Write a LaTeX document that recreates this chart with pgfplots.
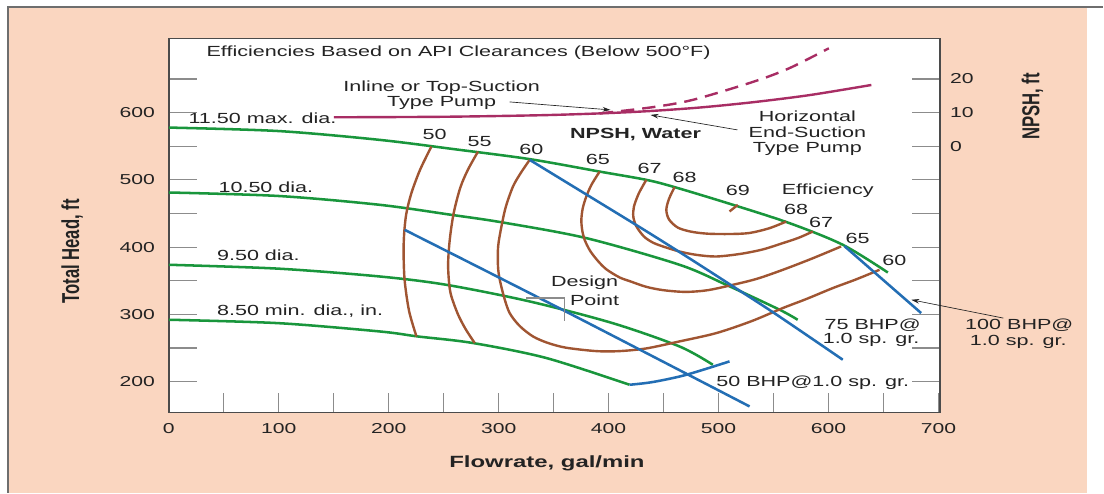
\documentclass[border=0pt]{standalone}
\usepackage{pgfplots}
\pgfplotsset{compat=1.18}
\usepackage{graphicx}
\usepackage{fontspec}
\setmainfont{Liberation Sans}
\newfontfamily\widefont[FakeStretch=1.47]{Liberation Sans}
\usetikzlibrary{arrows.meta}

\definecolor{peach}{RGB}{250,214,192}
\definecolor{headgreen}{RGB}{25,150,60}
\definecolor{effbrown}{RGB}{160,85,50}
\definecolor{bhpblue}{RGB}{35,110,180}
\definecolor{npshpink}{RGB}{168,45,100}
\definecolor{tickgray}{RGB}{140,140,140}
\definecolor{framegray}{RGB}{110,110,110}
\definecolor{axisgray}{RGB}{75,75,75}
\definecolor{txt}{RGB}{35,35,35}

\newcommand{\lblfont}{\widefont\fontsize{11}{13}\selectfont\color{txt}}
\newcommand{\tickfont}{\widefont\fontsize{10.8}{12}\selectfont\color{txt}}
\newcommand{\axlblfont}{\widefont\bfseries\fontsize{12.2}{14}\selectfont\color{txt}}

\pgfplotsset{
  chartbox/.style={
    at={(126.75pt,60.225pt)}, anchor=south west,
    scale only axis, width=578.8pt, height=280.8pt,
    xmin=0, xmax=701.5, enlargelimits=false,
    tick align=inside,
    tick style={draw=tickgray, line width=0.9pt},
    /pgf/number format/assume math mode=true,
  },
  head/.style={headgreen, line width=1.9pt, smooth},
  eff/.style={effbrown, line width=1.8pt, smooth},
  bhp/.style={bhpblue, line width=1.9pt, smooth},
}

\begin{document}
\begin{tikzpicture}[x=0.75pt,y=0.75pt]
% page background and frame
\fill[white] (0,0) rectangle (1104,493);
\fill[peach] (8,0) rectangle (1088,486);
\draw[framegray, line width=1.2pt] (8,0) -- (8,486) -- (1104,486);

% head scale: ticks on both sides
\begin{axis}[chartbox, ymin=154.4, ymax=710.4,
  hide x axis, axis line style={draw=none},
  axis background/.style={fill=white},
  ytick={200,300,...,600}, minor ytick={250,350,...,650},
  ytick pos=both, major tick length=21pt, minor tick length=21pt,
  yticklabel style={font=\tickfont, xshift=-7pt}]
\end{axis}

% pump curves
\begin{axis}[chartbox, ymin=154.4, ymax=710.4,
  axis line style={draw=axisgray, line width=1.1pt},
  ytick=\empty,
  xtick={0,100,...,700}, minor xtick={50,150,...,650},
  xtick pos=left, major tick length=14.25pt, minor tick length=14.25pt,
  xticklabel style={font=\tickfont, yshift=-4.5pt}]

% impeller diameters
\addplot[head] coordinates {(0,577.7) (100,572.5) (191.8,559.4) (260,545.5) (328.2,530.8) (391.8,512.3) (434.3,500) (460,489.2) (510,464.5) (564.5,435.7) (613,403.5) (654,362.3)};
\addplot[head] coordinates {(0,481.2) (100,476) (191.8,462.9) (257,448) (303.9,436.6) (379.7,413.4) (464.5,373.8) (507,344) (555.5,307) (572,292)};
\addplot[head] coordinates {(0,373.8) (100,368) (191.8,356.4) (252.5,344) (328.2,319.3) (404,286.9) (464.5,252.4) (494.8,225.2)};
\addplot[head] coordinates {(0,292.1) (100,287) (191.8,274.7) (226.3,267.3) (276.6,257.5) (343.4,235.2) (419,195.5)};

% efficiency contours
\addplot[eff] coordinates {(238.8,549.5) (228.5,515) (220.6,480.3) (216,450) (214,420) (213.5,390) (214.5,350) (218.5,305) (225.2,267.3)};
\addplot[eff] coordinates {(281.2,542) (272,515) (265,488) (259,450) (255.5,411) (254,375) (255,345) (257,326.7) (263,300) (270,278) (278.2,257.5)};
\addplot[eff] coordinates {(328.2,529.7) (320,510) (313,490) (306.5,460) (302.5,430.6) (299.5,401) (299.4,371) (301,351.5) (305,325) (310,302) (319,283) (331.2,267.3) (345,257.5) (361.5,250.5) (388.8,245.5) (410,245.5) (434.3,249.5) (464.5,259.9) (498,272.3) (530,290) (558.5,309.5) (580,323) (604,339.2) (625,352) (646.4,366.3)};
\addplot[eff] coordinates {(391.8,512.2) (384.5,493) (379.7,475.2) (376.5,458) (375.2,440.6) (376,425) (378.2,410.9) (383,395) (390,380) (398,367) (410,355) (420,349) (434.3,341) (450,336) (470,333.5) (490,336) (513,344) (535,353) (558.5,366.3) (585,383) (611.5,401)};
\addplot[eff] coordinates {(434.3,500) (427.5,480) (423,460) (422.5,445) (425.2,431) (432,416) (440,407) (449.4,401) (464.5,393.5) (480,388.5) (497.9,386.1) (520,390) (540,396.5) (558.5,406) (573,414) (585.7,423.2)};
\addplot[eff] coordinates {(460,489.2) (455,472) (452.5,455.5) (455,441) (463,429) (475,423) (490,420) (510,419.5) (528,421) (546,428) (561.5,438)};
\addplot[effbrown, line width=1.8pt] coordinates {(510,453) (517.5,462.9)};

% brake horsepower lines
\addplot[bhp] coordinates {(214.5,425.7) (355.5,309) (528.2,163.3)};
\addplot[bhp] coordinates {(328.2,529.7) (380,478) (430,428) (470,387) (510,345) (552.5,300) (613,232.7)};
\addplot[bhp] coordinates {(614.5,401.5) (684.3,302)};
\addplot[bhp] coordinates {(419.1,195.5) (440,199.5) (470,210) (510,230.2)};

% design point marker
\draw[tickgray, line width=0.9pt] (axis cs:325.2,324.3) -- (axis cs:360,324.3) -- (axis cs:360,289.6);
\end{axis}

% NPSH scale
\begin{axis}[chartbox, ymin=-79.12, ymax=32.08,
  hide x axis, axis y line*=right, axis line style={draw=none},
  ytick={0,10,20}, major tick length=0pt,
  yticklabel style={font=\tickfont, xshift=4pt}]
\addplot[npshpink, line width=1.8pt, smooth] coordinates {(150,8.6) (250,8.75) (337,9.2) (392,9.75) (435,10.4) (483,11.5) (532,13.1) (583,15.2) (639,18.2)};
\addplot[npshpink, line width=1.8pt, smooth, dash pattern=on 10pt off 6pt] coordinates {(392,9.75) (440,11.6) (476.9,13.8) (532.1,19.2) (564.5,23.2) (600.3,29.1)};
\end{axis}

% axis titles
\node[anchor=base west, font=\axlblfont] at (445,25) {Flowrate, gal/min};
\node[rotate=90, anchor=base, font=\bfseries\fontsize{12.5}{14}\selectfont\color{txt}] at (79.3,241.3) {\scalebox{1}[1.47]{Total Head, ft}};
\node[rotate=90, anchor=base, font=\bfseries\fontsize{12.5}{14}\selectfont\color{txt}] at (1040,386.5) {\scalebox{1}[1.47]{NPSH, ft}};

% annotations
\node[anchor=west, font=\lblfont] at (202,440) {Efficiencies Based on API Clearances (Below 500°F)};
\node[font=\lblfont] at (442,405.7) {Inline or Top-Suction};
\node[font=\lblfont] at (442,390.3) {Type Pump};
\draw[-{Stealth[length=6pt,width=3.5pt]}, line width=0.5pt, txt] (510,391) -- (611,383);
\node[font=\lblfont] at (808,377) {Horizontal};
\node[font=\lblfont] at (808,360.3) {End-Suction};
\node[font=\lblfont] at (808,344) {Type Pump};
\draw[-{Stealth[length=6pt,width=3.5pt]}, line width=0.5pt, txt] (738,363) -- (651,378);
\node[font=\widefont\bfseries\fontsize{11}{13}\selectfont\color{txt}] at (636,358) {NPSH, Water};

\node[anchor=west, font=\lblfont] at (184,375) {11.50 max. dia.};
\node[anchor=west, font=\lblfont] at (214,306) {10.50 dia.};
\node[anchor=west, font=\lblfont] at (212.5,238) {9.50 dia.};
\node[anchor=west, font=\lblfont] at (212.5,182) {8.50 min. dia., in.};

\node[font=\lblfont] at (435,358) {50};
\node[font=\lblfont] at (480,351.3) {55};
\node[font=\lblfont] at (531.7,343.7) {60};
\node[font=\lblfont] at (598.3,333) {65};
\node[font=\lblfont] at (650,324.7) {67};
\node[font=\lblfont] at (685,315.7) {68};
\node[font=\lblfont] at (738.3,302.3) {69};
\node[font=\lblfont] at (828.3,302.3) {Efficiency};
\node[font=\lblfont] at (796.7,283) {68};
\node[font=\lblfont] at (821.7,270.7) {67};
\node[font=\lblfont] at (858.3,254.7) {65};
\node[font=\lblfont] at (895,232.3) {60};

\node[font=\lblfont] at (585,209.7) {Design};
\node[font=\lblfont] at (595,193) {Point};

\node[font=\lblfont] at (873.3,168) {75 BHP@};
\node[font=\lblfont] at (871.7,153) {1.0 sp. gr.};
\node[font=\lblfont] at (1020,168) {100 BHP@};
\node[font=\lblfont] at (1019,151.3) {1.0 sp. gr.};
\draw[-{Stealth[length=6pt,width=3.5pt]}, line width=0.5pt, txt] (1004,174.7) -- (912,193);
\node[font=\lblfont] at (813.3,109.7) {50 BHP@1.0 sp. gr.};
\end{tikzpicture}
\end{document}
